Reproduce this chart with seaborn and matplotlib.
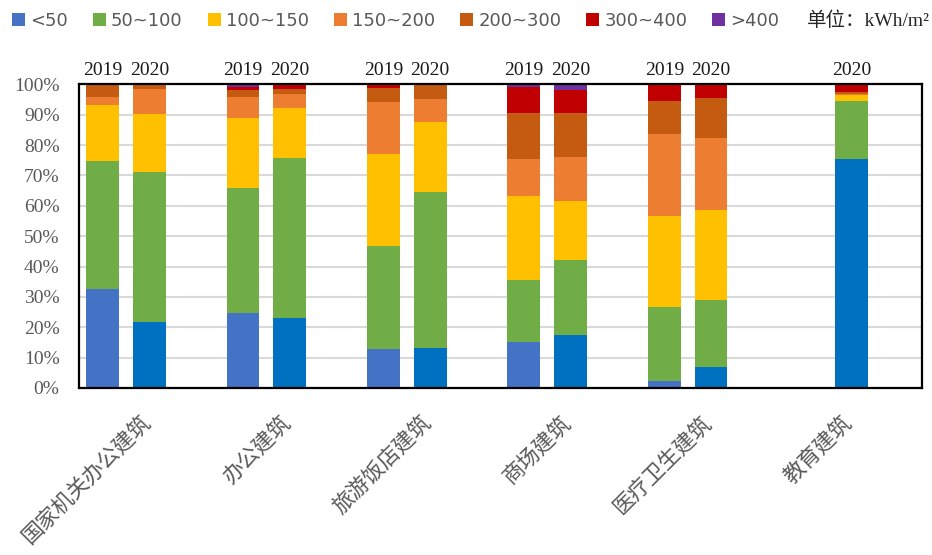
import numpy as np
import pandas as pd
import matplotlib.pyplot as plt
import matplotlib.transforms as mtransforms
from matplotlib.patches import Patch
import seaborn as sns

# Building types and the bars drawn for each (education only has 2020)
categories = ['国家机关办公建筑', '办公建筑', '旅游饭店建筑', '商场建筑', '医疗卫生建筑', '教育建筑']
bar_category = [c for c in categories[:5] for _ in range(2)] + [categories[5]]
bar_year = ['2019', '2020'] * 5 + ['2020']
years = ['2019', '2020']

# Energy intensity bands (kWh/m2) and share of buildings (%) per bar
bands = ['<50', '50~100', '100~150', '150~200', '200~300', '300~400', '>400']
lt50 = [32.5, 21.7, 24.6, 23.1, 12.8, 13.2, 15.2, 17.5, 2.3, 7.0, 75.4]
b50_100 = [42.2, 49.4, 41.3, 52.8, 34.0, 51.5, 20.3, 24.7, 24.5, 22.0, 19.1]
b100_150 = [18.4, 19.1, 23.0, 16.2, 30.4, 22.9, 27.8, 19.4, 29.8, 29.6, 1.9]
b150_200 = [2.9, 8.2, 7.1, 4.8, 17.0, 7.5, 12.1, 14.4, 27.0, 23.6, 0.5]
b200_300 = [4.0, 1.6, 2.2, 1.5, 4.7, 4.9, 15.1, 14.5, 10.8, 13.2, 0.5]
b300_400 = [0.0, 0.0, 1.0, 1.6, 1.1, 0.0, 8.6, 7.5, 5.6, 4.6, 2.6]
gt400 = [0.0, 0.0, 0.8, 0.0, 0.0, 0.0, 0.9, 2.0, 0.0, 0.0, 0.0]

colors_2019 = ['#4472C4', '#70AD47', '#FFC000', '#ED7D31', '#C55A11', '#C00000', '#7030A0']
colors_2020 = ['#0070C0', '#70AD47', '#FFC000', '#ED7D31', '#C55A11', '#C00000', '#7030A0']

band_values = np.array([lt50, b50_100, b100_150, b150_200, b200_300, b300_400, gt400])
cum = np.cumsum(band_values, axis=0)
df = pd.DataFrame({'category': bar_category, 'year': bar_year})

sns.set_theme(style="white")
plt.rcParams['font.family'] = ['Liberation Serif', 'Noto Sans CJK SC']
grey = '#595959'

fig = plt.figure(figsize=(9.32, 5.55), dpi=100)
ax = fig.add_axes([0.0848, 0.301, 0.9042, 0.547])

# an empty third hue slot keeps 2020 on the category centre, as in the original
hue_slots = years + ['_']
for i in reversed(range(len(bands))):
    df['value'] = cum[i]
    pal = {'2019': colors_2019[i], '2020': colors_2020[i], '_': 'white'}
    sns.barplot(data=df, x='category', y='value', hue='year', order=categories,
                hue_order=hue_slots, palette=pal, width=1.0, gap=0.3, errorbar=None,
                legend=False, saturation=1, linewidth=0, ax=ax)

# year labels above each bar
for container, year in zip(ax.containers[:2], years):
    for bar in container:
        ax.annotate(year, (bar.get_x() + bar.get_width() / 2, bar.get_height()),
                    xytext=(0, 4), textcoords='offset points', ha='center', va='bottom',
                    fontsize=14, color='#1a1a1a', annotation_clip=False)

ax.set_ylim(0, 100)
ax.set_xlim(-0.5, len(categories) - 0.5)
ax.set_yticks(range(0, 101, 10))
ax.set_yticklabels([f'{v}%' for v in range(0, 101, 10)])
ax.set_xlabel('')
ax.set_ylabel('')
ax.yaxis.grid(True, color='#D9D9D9', lw=1.5)
ax.set_axisbelow(True)
for s in ax.spines.values():
    s.set_color('black')
    s.set_linewidth(1.6)

ax.tick_params(axis='y', length=0, pad=14, labelsize=14, labelcolor=grey)
ax.tick_params(axis='x', length=0, pad=20)
ax.set_xticks(range(len(categories)))
ax.set_xticklabels(categories, rotation=45, ha='right', va='center', rotation_mode='anchor',
                   fontsize=15.5, color=grey, family=['Noto Sans CJK SC'])
offset = mtransforms.ScaledTranslation(-0.03, -0.03, fig.dpi_scale_trans)
for lab in ax.get_xticklabels():
    lab.set_transform(lab.get_transform() + offset)

handles = [Patch(facecolor=c, edgecolor='none') for c in colors_2019]
leg = fig.legend(handles, bands, loc='center left', bbox_to_anchor=(0.0129, 0.963), ncol=7,
                 frameon=False, handlelength=0.72, handleheight=0.72, handletextpad=0.28,
                 columnspacing=1.39, prop={'family': ['DejaVu Sans'], 'size': 13},
                 borderaxespad=0, borderpad=0)
for t in leg.get_texts():
    t.set_color(grey)
fig.text(0.866, 0.963, '单位：kWh/m²', ha='left', va='center', fontsize=14, color='#262626')

fig.savefig('out.png', dpi=100)
